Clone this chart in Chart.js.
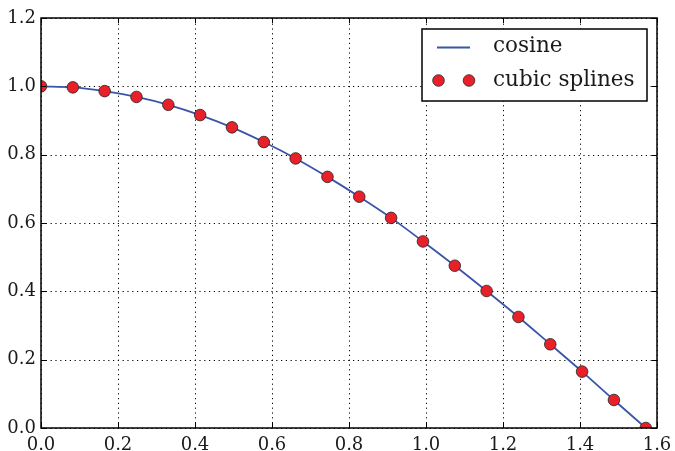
<!DOCTYPE html>
<html>
<head>
<meta charset="utf-8">
<script src="https://cdn.jsdelivr.net/npm/chart.js@4/dist/chart.umd.min.js"></script>
<style>
  html, body { margin: 0; padding: 0; background: #fff; }
  #wrap { width: 675px; height: 451px; }
</style>
</head>
<body>
<div id="wrap"><canvas id="chart" width="675" height="451"></canvas></div>
<script>
// values
var xs = [0, 0.0827, 0.1653, 0.2480, 0.3307, 0.4134, 0.4960, 0.5787, 0.6614, 0.7441,
          0.8267, 0.9094, 0.9921, 1.0748, 1.1574, 1.2401, 1.3228, 1.4054, 1.4881, 1.5708];
var cosine = [1.000, 0.997, 0.986, 0.969, 0.946, 0.916, 0.880, 0.837, 0.789, 0.735,
              0.677, 0.615, 0.546, 0.475, 0.401, 0.325, 0.245, 0.165, 0.082, 0.000];
var splines = cosine.slice();
var xTicks = [0, 0.2, 0.4, 0.6, 0.8, 1.0, 1.2, 1.4, 1.6];
var yTicks = [0, 0.2, 0.4, 0.6, 0.8, 1.0, 1.2];

var FONT = '"DejaVu Serif", serif';
var LINE = '#3a55a8';
var RED = '#e8202a';
var TXT = '#1a1a1a';

function pts(x, y) {
  return x.map(function (v, i) { return { x: v, y: y[i] }; });
}

// dotted grid under the data
var grid = {
  id: 'grid',
  beforeDatasetsDraw: function (chart) {
    var c = chart.ctx, a = chart.chartArea;
    var sx = chart.scales.x, sy = chart.scales.y;
    c.save();
    c.strokeStyle = '#000';
    c.lineWidth = 1;
    c.setLineDash([1.2, 3.6]);
    xTicks.forEach(function (t) {
      var p = Math.round(sx.getPixelForValue(t)) + 0.5;
      c.beginPath(); c.moveTo(p, a.bottom); c.lineTo(p, a.top); c.stroke();
    });
    yTicks.forEach(function (t) {
      var p = Math.round(sy.getPixelForValue(t)) + 0.5;
      c.beginPath(); c.moveTo(a.left, p); c.lineTo(a.right, p); c.stroke();
    });
    c.restore();
  }
};

// inward ticks on all four sides, frame and legend
var frame = {
  id: 'frame',
  afterDraw: function (chart) {
    var c = chart.ctx, a = chart.chartArea;
    var sx = chart.scales.x, sy = chart.scales.y;
    c.save();
    c.strokeStyle = '#000';
    c.lineWidth = 1;
    xTicks.forEach(function (t) {
      var p = Math.round(sx.getPixelForValue(t)) + 0.5;
      c.beginPath();
      c.moveTo(p, a.bottom); c.lineTo(p, a.bottom - 5);
      c.moveTo(p, a.top); c.lineTo(p, a.top + 5);
      c.stroke();
    });
    yTicks.forEach(function (t) {
      var p = Math.round(sy.getPixelForValue(t)) + 0.5;
      c.beginPath();
      c.moveTo(a.left, p); c.lineTo(a.left + 5, p);
      c.moveTo(a.right, p); c.lineTo(a.right - 5, p);
      c.stroke();
    });
    c.lineWidth = 1.5;
    c.strokeRect(a.left, a.top, a.right - a.left, a.bottom - a.top);

    // legend
    var lx = 422, ly = 29, lw = 225, lh = 72;
    c.fillStyle = '#fff';
    c.fillRect(lx, ly, lw, lh);
    c.strokeStyle = '#000';
    c.lineWidth = 1.5;
    c.strokeRect(lx, ly, lw, lh);
    c.strokeStyle = LINE;
    c.lineWidth = 1.8;
    c.beginPath();
    c.moveTo(437, 47.5); c.lineTo(470, 47.5);
    c.stroke();
    [438.5, 469].forEach(function (cx) {
      c.beginPath();
      c.arc(cx, 80.5, 5.8, 0, Math.PI * 2);
      c.fillStyle = RED;
      c.fill();
      c.strokeStyle = '#222';
      c.lineWidth = 0.8;
      c.stroke();
    });
    c.fillStyle = TXT;
    c.font = '21.5px ' + FONT;
    c.textBaseline = 'middle';
    c.fillText('cosine', 493, 46);
    c.fillText('cubic splines', 493, 80);
    c.restore();
  }
};

new Chart(document.getElementById('chart'), {
  type: 'scatter',
  data: {
    datasets: [
      {
        label: 'cubic splines',
        data: pts(xs, splines),
        showLine: false,
        pointRadius: 5.8,
        pointBackgroundColor: RED,
        pointBorderColor: '#222',
        pointBorderWidth: 0.8,
        order: 0
      },
      {
        label: 'cosine',
        data: pts(xs, cosine),
        showLine: true,
        borderColor: LINE,
        borderWidth: 1.8,
        tension: 0.3,
        pointRadius: 0,
        order: 1
      }
    ]
  },
  options: {
    responsive: false,
    animation: false,
    events: [],
    layout: { padding: { top: 18, right: 18, left: 0, bottom: 0 } },
    plugins: { legend: { display: false }, tooltip: { enabled: false } },
    scales: {
      x: {
        type: 'linear', min: 0, max: 1.6,
        afterBuildTicks: function (s) { s.ticks = xTicks.map(function (v) { return { value: v }; }); },
        afterFit: function (s) { s.height = 23; s.paddingLeft = 0; s.paddingRight = 0; },
        border: { display: false },
        grid: { display: false, drawTicks: false },
        ticks: {
          padding: 7, maxRotation: 0, color: TXT,
          font: { family: FONT, size: 18 },
          callback: function (v) { return v.toFixed(1); }
        }
      },
      y: {
        type: 'linear', min: 0, max: 1.2,
        afterBuildTicks: function (s) { s.ticks = yTicks.map(function (v) { return { value: v }; }); },
        afterFit: function (s) { s.width = 41; s.paddingTop = 0; s.paddingBottom = 0; },
        border: { display: false },
        grid: { display: false, drawTicks: false },
        ticks: {
          padding: 5, color: TXT,
          font: { family: FONT, size: 18 },
          callback: function (v) { return v.toFixed(1); }
        }
      }
    }
  },
  plugins: [grid, frame]
});
</script>
</body>
</html>
